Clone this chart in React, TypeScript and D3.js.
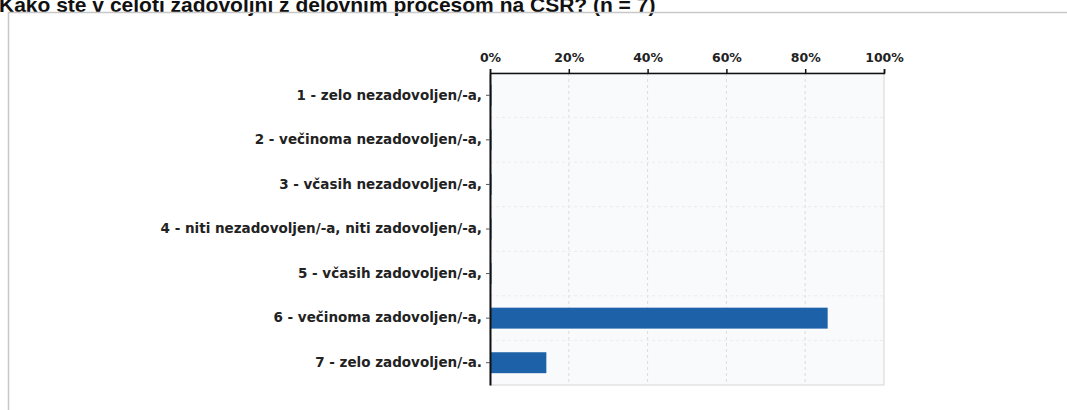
import React, { useEffect, useRef } from "react";
import * as d3 from "d3";

const title = "Kako ste v celoti zadovoljni z delovnim procesom na CSR? (n = 7)";

const categories = [
    "1 - zelo nezadovoljen/-a,",
    "2 - večinoma nezadovoljen/-a,",
    "3 - včasih nezadovoljen/-a,",
    "4 - niti nezadovoljen/-a, niti zadovoljen/-a,",
    "5 - včasih zadovoljen/-a,",
    "6 - večinoma zadovoljen/-a,",
    "7 - zelo zadovoljen/-a.",
];

// share of answers, percent
const shares = [0, 0, 0, 0, 0, 85.7, 14.3];

const xTicks = [0, 20, 40, 60, 80, 100];

function App() {
    const svgRef = useRef<SVGSVGElement | null>(null);

    useEffect(() => {
        const svg = d3.select(svgRef.current);
        svg.selectAll("*").remove();

        const margin = { top: 73, left: 490, right: 183, bottom: 25 };
        const width = 1067;
        const height = 410;

        const labelFont = "'DejaVu Sans', Verdana, sans-serif";

        // title, cut off at the top like the scan
        svg.append("text")
            .attr("x", -1)
            .attr("y", 12)
            .attr("font-family", "'Liberation Sans', Arial, sans-serif")
            .attr("font-weight", "bold")
            .attr("font-size", 21)
            .attr("fill", "#111")
            .text(title);

        // outer panel border
        svg.append("rect")
            .attr("x", 8.5)
            .attr("y", 12.5)
            .attr("width", 1100)
            .attr("height", 420)
            .attr("fill", "none")
            .attr("stroke", "#c8c8c8")
            .attr("stroke-width", 1.5);

        const x = d3.scaleLinear().domain([0, 100]).range([margin.left, width - margin.right]);
        const y = d3
            .scaleBand()
            .domain(categories)
            .range([margin.top, height - margin.bottom])
            .paddingInner(0.53)
            .paddingOuter(0.265);

        // plot background
        svg.append("rect")
            .attr("x", x(0))
            .attr("y", margin.top)
            .attr("width", x(100) - x(0))
            .attr("height", height - margin.bottom - margin.top)
            .attr("fill", "#f9fafc")
            .attr("stroke", "#d6d6d6")
            .attr("stroke-width", 1);

        // vertical grid
        svg.append("g")
            .selectAll("line")
            .data(xTicks.slice(1, -1))
            .enter()
            .append("line")
            .attr("x1", (d) => x(d))
            .attr("x2", (d) => x(d))
            .attr("y1", margin.top)
            .attr("y2", height - margin.bottom)
            .attr("stroke", "#dcdcdc")
            .attr("stroke-dasharray", "3,3");

        // horizontal grid between categories
        const step = y.step();
        svg.append("g")
            .selectAll("line")
            .data(categories.slice(1))
            .enter()
            .append("line")
            .attr("x1", x(0))
            .attr("x2", x(100))
            .attr("y1", (d) => (y(d) as number) - (step - y.bandwidth()) / 2)
            .attr("y2", (d) => (y(d) as number) - (step - y.bandwidth()) / 2)
            .attr("stroke", "#ececec")
            .attr("stroke-dasharray", "3,3");

        // bars
        svg.append("g")
            .selectAll("rect")
            .data(shares)
            .enter()
            .append("rect")
            .attr("x", x(0))
            .attr("y", (d, i) => y(categories[i]) as number)
            .attr("width", (d) => Math.max(x(d) - x(0), 1.5))
            .attr("height", y.bandwidth())
            .attr("fill", "#1d62a8");

        // top axis
        const xAxis = svg
            .append("g")
            .attr("transform", `translate(0,${margin.top})`)
            .call(
                d3
                    .axisTop(x)
                    .tickValues(xTicks)
                    .tickFormat((d) => d + "%")
                    .tickSize(4)
            );
        xAxis.select(".domain").attr("stroke", "#111").attr("stroke-width", 1.5);
        xAxis.selectAll(".tick line").attr("stroke", "#111").attr("stroke-width", 1.5);
        xAxis
            .selectAll(".tick text")
            .attr("font-family", labelFont)
            .attr("font-weight", "bold")
            .attr("font-size", 12.5)
            .attr("fill", "#222")
            .attr("dy", "-0.3em");

        // left axis
        const yAxis = svg
            .append("g")
            .attr("transform", `translate(${margin.left},0)`)
            .call(d3.axisLeft(y).tickSize(4).tickSizeOuter(0));
        yAxis.select(".domain").attr("stroke", "#111").attr("stroke-width", 2);
        yAxis.selectAll(".tick line").attr("stroke", "#555");
        yAxis
            .selectAll(".tick text")
            .attr("font-family", labelFont)
            .attr("font-weight", "bold")
            .attr("font-size", 13.5)
            .attr("fill", "#222")
            .attr("x", -8);
    }, []);

    return (
        <svg
            ref={svgRef}
            width={1067}
            height={410}
            style={{ position: "absolute", left: 0, top: 0, background: "#fff" }}
        ></svg>
    );
}

export default App;
